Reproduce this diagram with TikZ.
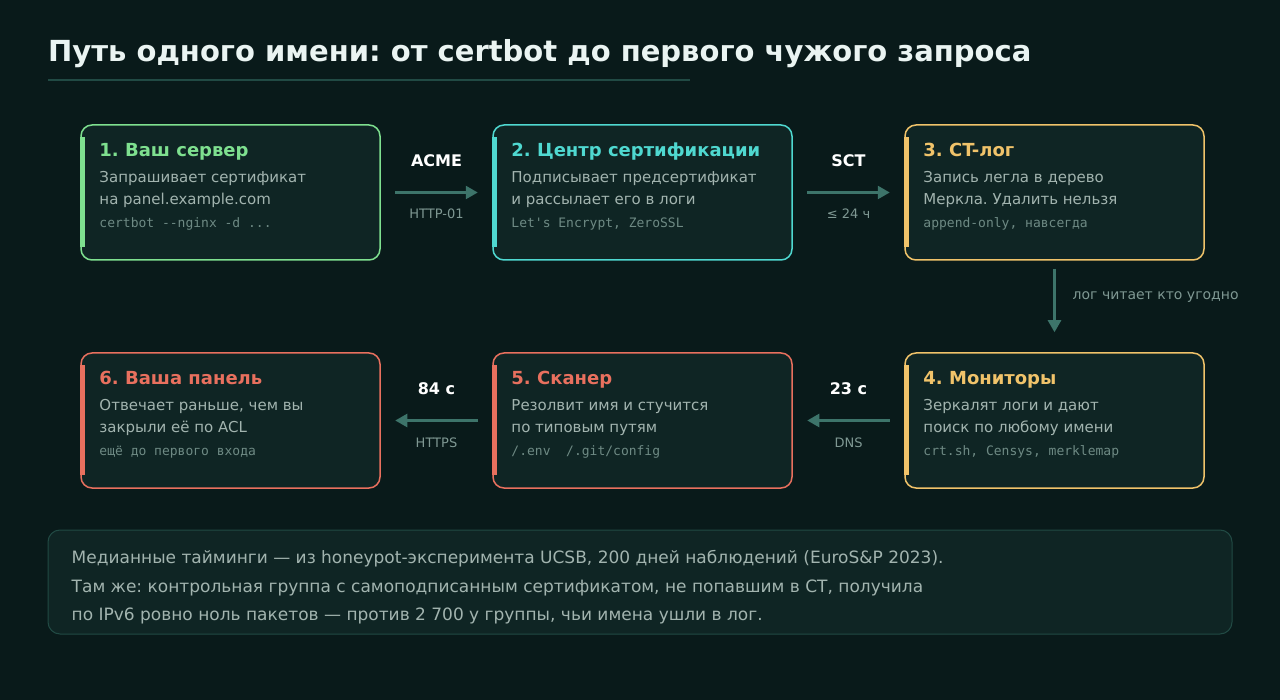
\documentclass[tikz,border=0pt]{standalone}
\usepackage{fontspec}
\setmainfont{DejaVu Sans}
\setmonofont{DejaVu Sans Mono}
\usetikzlibrary{arrows.meta}
\frenchspacing

\definecolor{bg}{HTML}{091A1A}
\definecolor{cardbg}{HTML}{0F2524}
\definecolor{cgreen}{HTML}{7EE08F}
\definecolor{ccyan}{HTML}{4FD8D0}
\definecolor{cyellow}{HTML}{F0C36A}
\definecolor{cred}{HTML}{E8705E}
\definecolor{flowc}{HTML}{3D746A}
\definecolor{bodytxt}{HTML}{A2B4AF}
\definecolor{monotxt}{HTML}{6E8A84}
\definecolor{subtxt}{HTML}{7F9893}
\definecolor{rule}{HTML}{214A44}
\definecolor{titletxt}{HTML}{EAF4F2}

\begin{document}
\begin{tikzpicture}[x=1pt,y=-1pt,
    card/.style={draw=#1, fill=cardbg, line width=1.5pt, rounded corners=11pt,
      minimum width=299pt, minimum height=135pt, inner sep=0},
    cardtitle/.style={text=#1, font=\fontsize{18}{21}\selectfont\bfseries,
      anchor=base west, inner sep=0},
    cardbody/.style={text=bodytxt, font=\fontsize{15}{18}\selectfont,
      anchor=base west, inner sep=0},
    cardmono/.style={text=monotxt, font=\ttfamily\fontsize{13}{15}\selectfont,
      anchor=base west, inner sep=0},
    flow/.style={draw=flowc, line width=2.5pt, -{Triangle[length=12pt,width=13pt]},
      shorten <=14.5pt, shorten >=14.5pt},
    flowtop/.style={anchor=base, yshift=25.5pt, inner sep=0, text=white,
      font=\fontsize{16}{19}\selectfont\bfseries},
    flowbot/.style={anchor=base, yshift=-26.5pt, inner sep=0, text=subtxt,
      font=\fontsize{13}{15}\selectfont},
    notetxt/.style={text=bodytxt, font=\fontsize{17}{20}\selectfont,
      anchor=base west, inner sep=0}]
  \useasboundingbox (0,0) rectangle (1280,700);
  \fill[bg] (0,0) rectangle (1280,700);

  % title
  \node[anchor=base west, inner sep=0, text=titletxt,
    font=\fontsize{29}{34}\selectfont\bfseries] (title) at (48,62)
    {Путь одного имени: от certbot до первого чужого запроса};
  \draw[rule, line width=2pt] (48,80.5) -- (690,80.5);

  % cards, top row
  \node[card=cgreen] (c1) at (230.5,192.5) {};
  \fill[cgreen] ([yshift=-13pt]c1.north west) rectangle ([xshift=5pt,yshift=14pt]c1.south west);
  \node[cardtitle=cgreen] (t1) at ([xshift=19pt,yshift=-32pt]c1.north west) {1. Ваш сервер};
  \node[cardbody] (b1) at ([xshift=19pt,yshift=-58.5pt]c1.north west) {Запрашивает сертификат};
  \node[cardbody] (b1x) at ([xshift=19pt,yshift=-80.5pt]c1.north west) {на panel.example.com};
  \node[cardmono] (m1) at ([xshift=19pt,yshift=-103pt]c1.north west) {certbot -{}-nginx -d ...};

  \node[card=ccyan] (c2) at (642.5,192.5) {};
  \fill[ccyan] ([yshift=-13pt]c2.north west) rectangle ([xshift=5pt,yshift=14pt]c2.south west);
  \node[cardtitle=ccyan] (t2) at ([xshift=19pt,yshift=-32pt]c2.north west) {2. Центр сертификации};
  \node[cardbody] (b2) at ([xshift=19pt,yshift=-58.5pt]c2.north west) {Подписывает предсертификат};
  \node[cardbody] (b2x) at ([xshift=19pt,yshift=-80.5pt]c2.north west) {и рассылает его в логи};
  \node[cardmono] (m2) at ([xshift=19pt,yshift=-103pt]c2.north west) {Let's Encrypt, ZeroSSL};

  \node[card=cyellow] (c3) at (1054.5,192.5) {};
  \fill[cyellow] ([yshift=-13pt]c3.north west) rectangle ([xshift=5pt,yshift=14pt]c3.south west);
  \node[cardtitle=cyellow] (t3) at ([xshift=19pt,yshift=-32pt]c3.north west) {3. CT-лог};
  \node[cardbody] (b3) at ([xshift=19pt,yshift=-58.5pt]c3.north west) {Запись легла в дерево};
  \node[cardbody] (b3x) at ([xshift=19pt,yshift=-80.5pt]c3.north west) {Меркла. Удалить нельзя};
  \node[cardmono] (m3) at ([xshift=19pt,yshift=-103pt]c3.north west) {append-only, навсегда};

  % cards, bottom row
  \node[card=cyellow] (c4) at (1054.5,420.5) {};
  \fill[cyellow] ([yshift=-13pt]c4.north west) rectangle ([xshift=5pt,yshift=14pt]c4.south west);
  \node[cardtitle=cyellow] (t4) at ([xshift=19pt,yshift=-32pt]c4.north west) {4. Мониторы};
  \node[cardbody] (b4) at ([xshift=19pt,yshift=-58.5pt]c4.north west) {Зеркалят логи и дают};
  \node[cardbody] (b4x) at ([xshift=19pt,yshift=-80.5pt]c4.north west) {поиск по любому имени};
  \node[cardmono] (m4) at ([xshift=19pt,yshift=-103pt]c4.north west) {crt.sh, Censys, merklemap};

  \node[card=cred] (c5) at (642.5,420.5) {};
  \fill[cred] ([yshift=-13pt]c5.north west) rectangle ([xshift=5pt,yshift=14pt]c5.south west);
  \node[cardtitle=cred] (t5) at ([xshift=19pt,yshift=-32pt]c5.north west) {5. Сканер};
  \node[cardbody] (b5) at ([xshift=19pt,yshift=-58.5pt]c5.north west) {Резолвит имя и стучится};
  \node[cardbody] (b5x) at ([xshift=19pt,yshift=-80.5pt]c5.north west) {по типовым путям};
  \node[cardmono] (m5) at ([xshift=19pt,yshift=-103pt]c5.north west) {/.env\ \ /.git/config};

  \node[card=cred] (c6) at (230.5,420.5) {};
  \fill[cred] ([yshift=-13pt]c6.north west) rectangle ([xshift=5pt,yshift=14pt]c6.south west);
  \node[cardtitle=cred] (t6) at ([xshift=19pt,yshift=-32pt]c6.north west) {6. Ваша панель};
  \node[cardbody] (b6) at ([xshift=19pt,yshift=-58.5pt]c6.north west) {Отвечает раньше, чем вы};
  \node[cardbody] (b6x) at ([xshift=19pt,yshift=-80.5pt]c6.north west) {закрыли её по ACL};
  \node[cardmono] (m6) at ([xshift=19pt,yshift=-103pt]c6.north west) {ещё до первого входа};

  % arrows
  \draw[flow] (c1.east) -- node[flowtop] (a1) {ACME} node[flowbot] (a1s) {HTTP-01} (c2.west);
  \draw[flow] (c2.east) -- node[flowtop] (a2) {SCT} node[flowbot] (a2s) {≤ 24 ч} (c3.west);
  \draw[flow, shorten <=8pt, shorten >=20pt] (c3.south) -- (c4.north);
  \node[anchor=base west, inner sep=0, text=subtxt, font=\fontsize{14}{16}\selectfont]
    (a3) at ([xshift=18pt,yshift=-39pt]c3.south) {лог читает кто угодно};
  \draw[flow] (c4.west) -- node[flowtop] (a4) {23 с} node[flowbot] (a4s) {DNS} (c5.east);
  \draw[flow] (c5.west) -- node[flowtop] (a5) {84 с} node[flowbot] (a5s) {HTTPS} (c6.east);

  % note
  \node[draw=rule, fill=cardbg, line width=1pt, rounded corners=12pt,
    minimum width=1184pt, minimum height=104pt, inner sep=0] (nt) at (640,582) {};
  \node[notetxt] (n1) at ([xshift=24pt,yshift=-33.5pt]nt.north west)
    {Медианные тайминги — из honeypot-эксперимента UCSB, 200 дней наблюдений (EuroS\&P 2023).};
  \node[notetxt] (n2) at ([xshift=24pt,yshift=-62.5pt]nt.north west)
    {Там же: контрольная группа с самоподписанным сертификатом, не попавшим в CT, получила};
  \node[notetxt] (n3) at ([xshift=24pt,yshift=-91pt]nt.north west)
    {по IPv6 ровно ноль пакетов — против 2~700 у группы, чьи имена ушли в лог.};
\end{tikzpicture}
\end{document}
